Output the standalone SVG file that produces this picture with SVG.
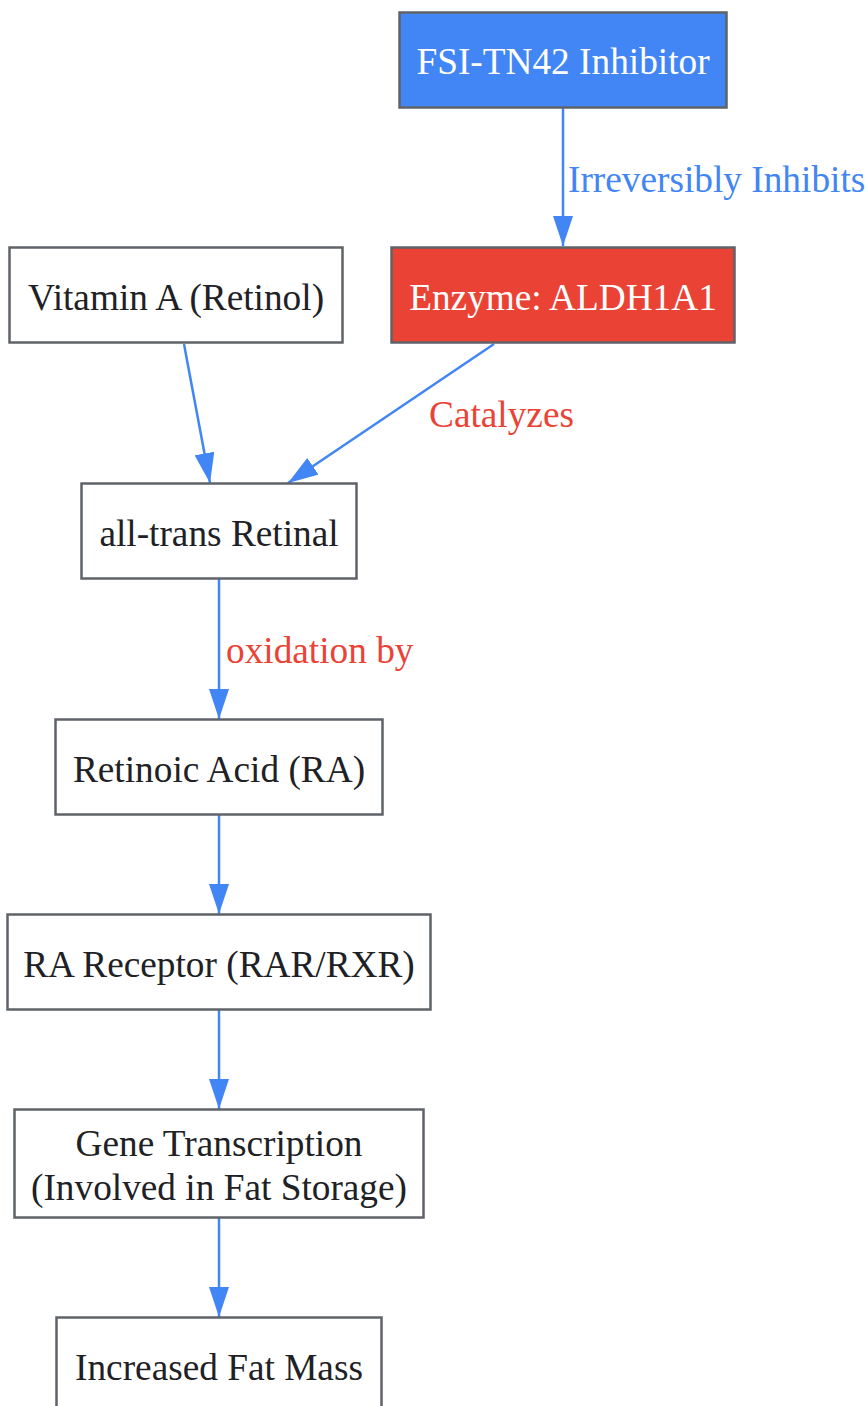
<svg xmlns="http://www.w3.org/2000/svg" width="868" height="1406" viewBox="0 0 868 1406">
<defs>
<style>
.n rect{stroke:#5f6368;stroke-width:2.5;fill:#ffffff}
.n text{font-family:"Liberation Serif","Times New Roman",serif;font-size:37.3px;fill:#202124;text-anchor:middle}
.n.w text{fill:#ffffff}
.e{stroke:#4285f4;stroke-width:2.5;fill:none;marker-end:url(#ah)}
.l{font-family:"Liberation Serif","Times New Roman",serif;font-size:37.3px}
</style>
<marker id="ah" viewBox="0 0 30 20" refX="30" refY="10" markerWidth="30" markerHeight="20" markerUnits="userSpaceOnUse" orient="auto">
<path d="M0,0 L30,10 L0,20 z" fill="#4285f4"/>
</marker>
</defs>
<rect width="868" height="1406" fill="#ffffff"/>
<g id="edges">
<line class="e" x1="563" y1="107" x2="563" y2="246"/>
<line class="e" x1="184" y1="344" x2="210" y2="483"/>
<line class="e" x1="494" y1="344" x2="288" y2="483"/>
<line class="e" x1="219" y1="579" x2="219" y2="719"/>
<line class="e" x1="219" y1="815" x2="219" y2="914"/>
<line class="e" x1="219" y1="1010" x2="219" y2="1109"/>
<line class="e" x1="219" y1="1218" x2="219" y2="1317"/>
<text class="l" x="568" y="192" fill="#4285f4">Irreversibly Inhibits</text>
<text class="l" x="429" y="427" fill="#ea4335">Catalyzes</text>
<text class="l" x="226" y="663" fill="#ea4335">oxidation by</text>
</g>
<g id="fsi" class="n w"><rect x="399.5" y="12.5" width="327" height="95" style="fill:#4285f4"/><text x="563" y="73.5">FSI-TN42 Inhibitor</text></g>
<g id="enzyme" class="n w"><rect x="391.5" y="247.5" width="343" height="95" style="fill:#ea4335"/><text x="563" y="309.5">Enzyme: ALDH1A1</text></g>
<g id="vitA" class="n"><rect x="9.5" y="247.5" width="333" height="95"/><text x="176" y="309.5">Vitamin A (Retinol)</text></g>
<g id="retinal" class="n"><rect x="81.5" y="483.5" width="275" height="95"/><text x="219" y="545.5">all-trans Retinal</text></g>
<g id="ra" class="n"><rect x="55.5" y="719.5" width="327" height="95"/><text x="219" y="781.5">Retinoic Acid (RA)</text></g>
<g id="rar" class="n"><rect x="7.5" y="914.5" width="423" height="95"/><text x="219" y="976.5">RA Receptor (RAR/RXR)</text></g>
<g id="gene" class="n"><rect x="14.5" y="1109.5" width="409" height="108"/><text x="219" y="1155.5">Gene Transcription</text><text x="219" y="1199.5">(Involved in Fat Storage)</text></g>
<g id="fat" class="n"><rect x="56.5" y="1317.5" width="325" height="95"/><text x="219" y="1379.5">Increased Fat Mass</text></g>
</svg>
